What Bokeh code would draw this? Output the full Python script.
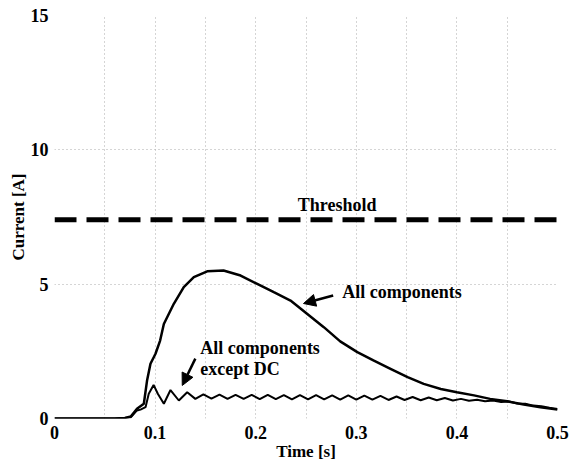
from bokeh.plotting import figure
from bokeh.models import Label, Arrow, NormalHead, FixedTicker, Range1d
from bokeh.embed import file_html
from bokeh.resources import INLINE

# ---- data ----
t_all = [0.0, 0.06, 0.07, 0.076, 0.082, 0.0888, 0.092, 0.0954, 0.1004, 0.105, 0.1087,
         0.1186, 0.1285, 0.1385, 0.1518, 0.168, 0.185, 0.2015, 0.218, 0.2346, 0.251,
         0.2677, 0.284, 0.301, 0.317, 0.334, 0.351, 0.367, 0.384, 0.400, 0.417, 0.433,
         0.45, 0.4665, 0.483, 0.5]
i_all = [0.0, 0.0, 0.02, 0.08, 0.36, 0.55, 1.41, 2.04, 2.41, 2.9, 3.52,
         4.27, 4.89, 5.26, 5.48, 5.51, 5.32, 5.01, 4.70, 4.39, 3.90,
         3.40, 2.87, 2.47, 2.16, 1.85, 1.54, 1.29, 1.10, 0.98, 0.86, 0.73,
         0.64, 0.52, 0.42, 0.33]

t_nodc = [0.0, 0.06, 0.07, 0.076, 0.082, 0.0855, 0.0905, 0.0937, 0.0985, 0.1027, 0.1087,
          0.1153, 0.1236, 0.1319, 0.140, 0.148, 0.156, 0.164, 0.172, 0.180, 0.188,
          0.196, 0.204, 0.212, 0.220, 0.228, 0.236, 0.244, 0.252, 0.260, 0.268,
          0.276, 0.284, 0.292, 0.300, 0.308, 0.316, 0.324, 0.332, 0.340, 0.348,
          0.356, 0.364, 0.372, 0.380, 0.388, 0.396, 0.404, 0.412, 0.420, 0.428,
          0.436, 0.444, 0.452, 0.460, 0.468, 0.476, 0.484, 0.492, 0.500]
i_nodc = [0.0, 0.0, 0.02, 0.05, 0.30, 0.33, 0.42, 0.92, 1.25, 0.92, 0.55,
          1.06, 0.67, 0.98, 0.73, 0.90, 0.74, 0.89, 0.73, 0.88, 0.73,
          0.88, 0.72, 0.88, 0.72, 0.87, 0.71, 0.87, 0.71, 0.87, 0.71,
          0.86, 0.70, 0.86, 0.70, 0.85, 0.70, 0.84, 0.69, 0.82, 0.69,
          0.80, 0.68, 0.78, 0.68, 0.76, 0.67, 0.73, 0.66, 0.70, 0.64,
          0.67, 0.61, 0.63, 0.56, 0.55, 0.48, 0.46, 0.40, 0.35]

threshold = 7.4
x_ticks = [0, 0.1, 0.2, 0.3, 0.4, 0.5]
x_minor = [0.05, 0.15, 0.25, 0.35, 0.45]
y_ticks = [0, 5, 10, 15]

FONT = "'Liberation Serif', 'Times New Roman', 'DejaVu Serif', serif"

p = figure(frame_width=503, frame_height=403, output_backend="svg", toolbar_location=None,
           x_range=Range1d(0, 0.5), y_range=Range1d(0, 15),
           min_border_left=54, min_border_top=15, min_border_right=12, min_border_bottom=4)
p.outline_line_color = None
p.background_fill_color = "white"

p.xaxis.ticker = FixedTicker(ticks=x_ticks, minor_ticks=x_minor)
p.yaxis.ticker = FixedTicker(ticks=y_ticks)
p.xaxis.major_label_overrides = {0: "0", 0.1: "0.1", 0.2: "0.2", 0.3: "0.3", 0.4: "0.4", 0.5: "0.5"}

for ax in (p.xaxis[0], p.yaxis[0]):
    ax.axis_line_color = None
    ax.major_tick_line_color = None
    ax.minor_tick_line_color = None
    ax.major_tick_out = 0
    ax.major_tick_in = 0
    ax.minor_tick_out = 0
    ax.minor_tick_in = 0
    ax.major_label_text_font = FONT
    ax.major_label_text_font_style = "bold"
    ax.major_label_text_font_size = "18px"
    ax.major_label_text_color = "black"
    ax.axis_label_text_font = FONT
    ax.axis_label_text_font_style = "bold"
    ax.axis_label_text_font_size = "17px"
    ax.axis_label_text_color = "black"

p.xaxis.axis_label = "Time [s]"
p.yaxis.axis_label = "Current [A]"
p.xaxis.major_label_standoff = 7
p.yaxis.major_label_standoff = 6
p.xaxis.axis_label_standoff = 0
p.yaxis.axis_label_standoff = 0

for g in (p.xgrid[0], p.ygrid[0]):
    g.grid_line_color = "#aaaaaa"
    g.grid_line_dash = "1 3"
    g.grid_line_width = 1
p.xgrid.minor_grid_line_color = "#aaaaaa"
p.xgrid.minor_grid_line_dash = "1 3"

p.line([0, 0.5], [threshold, threshold], line_color="black", line_width=5, line_dash="22 10")
p.line(t_all, i_all, line_color="black", line_width=2.5)
p.line(t_nodc, i_nodc, line_color="black", line_width=2)

def lab(x, y, text, align="left"):
    p.add_layout(Label(x=x, y=y, text=text, text_font=FONT, text_font_style="bold",
                       text_font_size="18px", text_color="black",
                       text_baseline="middle", text_align=align))

lab(0.281, 7.93, "Threshold", "center")
lab(0.286, 4.69, "All components")
lab(0.145, 2.64, "All components")
lab(0.145, 1.86, "except DC")

for (x0, y0, x1, y1) in [(0.277, 4.58, 0.2475, 4.28), (0.140, 2.23, 0.127, 1.23)]:
    p.add_layout(Arrow(end=NormalHead(size=12, fill_color="black", line_color="black"),
                       x_start=x0, y_start=y0, x_end=x1, y_end=y1,
                       line_color="black", line_width=2.5))

open("out.html", "w").write(file_html(p, INLINE))
